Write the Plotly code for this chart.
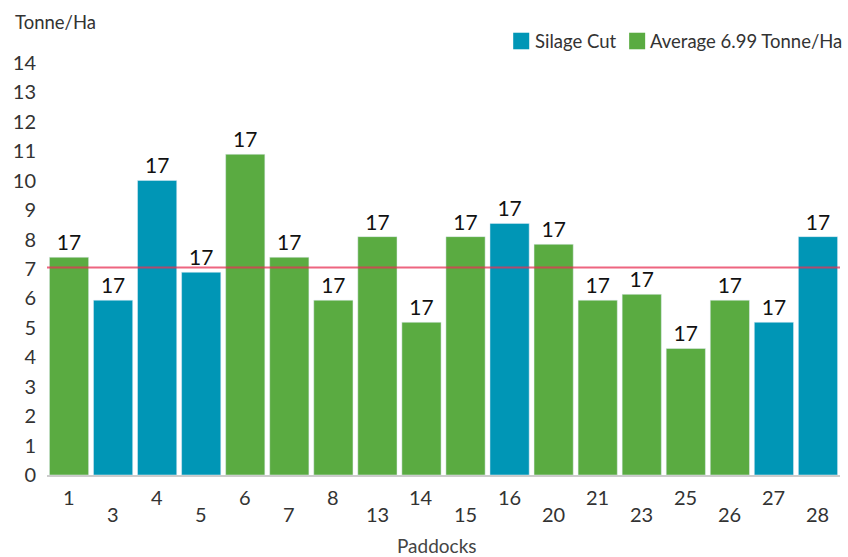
import plotly.graph_objects as go

paddocks = ["1", "3", "4", "5", "6", "7", "8", "13", "14", "15", "16", "20", "21", "23", "25", "26", "27", "28"]
yields = [7.40, 5.94, 10.01, 6.89, 10.90, 7.40, 5.94, 8.10, 5.19, 8.10, 8.55, 7.84, 5.94, 6.14, 4.30, 5.94, 5.19, 8.10]
silage_cut = [False, True, True, True, False, False, False, False, False, False, True, False, False, False, False, False, True, True]
bar_labels = ["17"] * len(paddocks)
series_names = ["Silage Cut", "Average 6.99 Tonne/Ha"]
average_line = 7.05
y_ticks = list(range(0, 15))

BLUE = "#0096B6"
GREEN = "#5AAB41"
FONT = "Lato, 'Open Sans', sans-serif"

blue_x = [p for p, s in zip(paddocks, silage_cut) if s]
blue_y = [v for v, s in zip(yields, silage_cut) if s]
blue_t = [t for t, s in zip(bar_labels, silage_cut) if s]
green_x = [p for p, s in zip(paddocks, silage_cut) if not s]
green_y = [v for v, s in zip(yields, silage_cut) if not s]
green_t = [t for t, s in zip(bar_labels, silage_cut) if not s]

fig = go.Figure()
fig.add_trace(go.Bar(x=blue_x, y=blue_y, name=series_names[0], marker_color=BLUE,
                     text=blue_t, textposition="outside", cliponaxis=False,
                     textfont=dict(size=21, color="#111", family=FONT), showlegend=False))
fig.add_trace(go.Bar(x=green_x, y=green_y, name=series_names[1], marker_color=GREEN,
                     text=green_t, textposition="outside", cliponaxis=False,
                     textfont=dict(size=21, color="#111", family=FONT), showlegend=False))

fig.add_shape(type="line", xref="paper", x0=0, x1=1, yref="y", y0=average_line, y1=average_line,
              line=dict(color="rgba(232,50,85,0.75)", width=2), layer="above")

# manual legend (squares + labels)
legend_items = [(series_names[0], BLUE, 0.5879, 0.6131), (series_names[1], GREEN, 0.7341, 0.7580)]
for name, col, sx, tx in legend_items:
    fig.add_shape(type="rect", xref="paper", yref="paper", x0=sx, x1=sx + 0.0202,
                  y0=1.0333, y1=1.0735, fillcolor=col, line=dict(width=0))

annotations = []
for name, col, sx, tx in legend_items:
    annotations.append(dict(x=tx, xref="paper", y=1.0534, yref="paper", text=name,
                            showarrow=False, xanchor="left", yanchor="middle",
                            font=dict(size=18.5, color="#333", family=FONT)))
for i, p in enumerate(paddocks):
    annotations.append(dict(x=i, xref="x", y=0, yref="paper", text=p, showarrow=False,
                            yanchor="middle", yshift=-22 if i % 2 == 0 else -39,
                            font=dict(size=20, color="#333", family=FONT)))
annotations.append(dict(x=-0.0435, xref="paper", y=1.0995, yref="paper", text="Tonne/Ha",
                        showarrow=False, xanchor="left", yanchor="middle",
                        font=dict(size=18.5, color="#333", family=FONT)))
annotations.append(dict(x=0.492, xref="paper", y=-0.17, yref="paper", text="Paddocks",
                        showarrow=False, xanchor="center", yanchor="middle",
                        font=dict(size=19, color="#444", family=FONT)))

fig.update_layout(
    width=848, height=557,
    margin=dict(l=46.5, r=8, t=63, b=82, autoexpand=False),
    paper_bgcolor="white", plot_bgcolor="white",
    barmode="relative", bargap=0.11,
    showlegend=False,
    annotations=annotations,
    xaxis=dict(type="category", categoryorder="array", categoryarray=paddocks,
               range=[-0.5, len(paddocks) - 0.5],
               showticklabels=False, showgrid=False, showline=True, linecolor="#cccccc",
               linewidth=2, ticks="", zeroline=False),
    yaxis=dict(range=[0, 14], tickvals=y_ticks, showgrid=False, zeroline=False,
               showline=False, ticks="", ticklabelstandoff=10,
               tickfont=dict(size=20, color="#333", family=FONT)),
)

fig.write_html("out.html", config={"displayModeBar": False},
               post_script="document.body.style.margin='0';")
